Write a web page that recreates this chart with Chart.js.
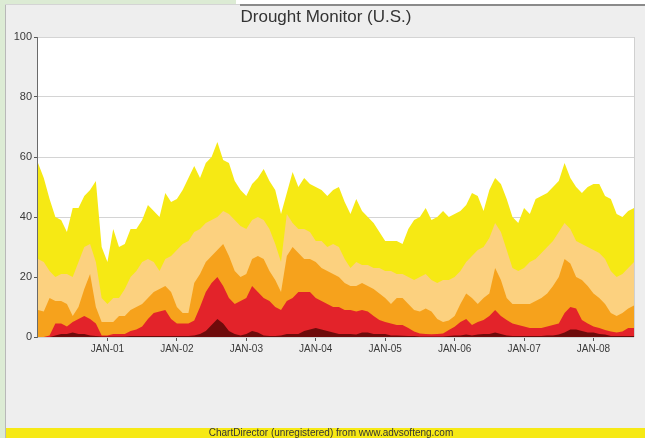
<!DOCTYPE html>
<html>
<head>
<meta charset="utf-8">
<title>Drought Monitor (U.S.)</title>
<script src="https://cdn.jsdelivr.net/npm/chart.js@4.4.1/dist/chart.umd.min.js"></script>
<style>
    html, body { margin: 0; padding: 0; background: #dcebd4; }
    #wrap { width: 645px; height: 438px; }
</style>
</head>
<body>
<div id="wrap"><canvas id="droughtChart" width="645" height="438"></canvas></div>
<script>
// Monthly percent of area in drought, Jan 2000 .. Aug 2008 (cumulative categories)
const startYear = 2000;

// D0-D4 (abnormally dry or worse)
const abnormallyDry = [
    58, 53, 46, 40, 39, 35, 43, 43, 47, 49, 52, 30,
    25, 36, 30, 31, 36, 36, 39, 44, 42, 40, 48, 45,
    46, 49, 53, 57, 53, 58, 60, 65, 59, 58, 52, 49,
    47, 51, 53, 56, 52, 49, 41, 48, 55, 50, 53, 51,
    50, 49, 47, 49, 50, 45, 41, 46, 42, 40, 38, 35,
    32, 32, 32, 31, 36, 39, 40, 43, 39, 40, 42, 40,
    41, 42, 44, 48, 47, 42, 49, 53, 51, 46, 40, 38,
    43, 41, 46, 47, 48, 50, 52, 58, 53, 50, 48, 50,
    51, 51, 47, 46, 41, 40, 42, 43
];
// D1-D4 (moderate or worse)
const moderate = [
    26, 25, 22, 20, 21, 21, 20, 25, 30, 31, 25, 13,
    11, 13, 13, 16, 20, 22, 25, 26, 25, 22, 26, 27,
    29, 31, 32, 35, 36, 38, 39, 40, 42, 41, 39, 37,
    36, 39, 40, 39, 36, 31, 25, 41, 38, 36, 36, 35,
    32, 32, 30, 31, 30, 26, 23, 25, 24, 24, 23, 23,
    22, 22, 21, 21, 20, 19, 20, 21, 19, 18, 19, 19,
    20, 22, 25, 27, 29, 30, 33, 38, 35, 29, 23, 22,
    23, 25, 26, 28, 30, 32, 35, 38, 36, 32, 31, 30,
    29, 28, 26, 22, 20, 21, 23, 25
];
// D2-D4 (severe or worse)
const severe = [
    9, 8.5, 13, 12, 12, 11, 7, 10, 16, 21, 10, 5,
    5, 5, 7, 7, 9, 10, 11, 13, 15, 16, 17, 15,
    10, 8, 8, 18, 21, 25, 27, 29, 31, 27, 22, 20,
    21, 26, 27, 26, 22, 19, 15, 27, 30, 28, 26, 26,
    25, 23, 22, 21, 20, 18, 17, 17, 18, 17, 16, 14.5,
    13, 11, 13, 13, 11, 9, 8.5, 9.5, 8.5, 6, 5, 5.5,
    7, 11, 14.5, 13, 11, 13, 14.5, 23, 19, 13, 11, 11,
    11, 11, 12, 13, 14.5, 17, 20, 26, 24.5, 20, 19, 17,
    14.5, 13, 11, 8, 7, 8, 9.5, 10.5
];
// D3-D4 (extreme or worse)
const extreme = [
    0, 0, 0.5, 4.5, 4.5, 3.5, 5, 6, 7, 6, 4.5, 0.5,
    0.5, 1, 1, 1, 2, 2.5, 3.5, 6, 8, 8.5, 9, 6,
    4.5, 4.5, 4.5, 5.5, 10, 15, 18, 20, 17, 13, 11, 12,
    13, 17, 15, 13, 12, 10, 9, 12, 13, 15, 15, 15,
    13, 12, 11, 10, 10, 9, 9, 8.5, 9, 8.5, 7, 5.7,
    5, 4.5, 4, 4, 3, 1.8, 1.2, 1, 0.9, 1, 1.2, 2.3,
    3.4, 5, 6, 4, 5, 5.7, 7, 9, 7, 5.7, 4.5, 4,
    3.5, 3, 3, 3, 3.5, 4, 4.5, 8, 10, 9.5, 5.7, 4.5,
    3.5, 3, 2.3, 1.8, 1.5, 1.8, 3, 3
];
// D4 (exceptional)
const exceptional = [
    0, 0, 0, 0.5, 1, 1, 1.5, 1, 1, 0.5, 0.3, 0.2,
    0.2, 0.2, 0.2, 0.2, 0.3, 0.3, 0.3, 0.3, 0.3, 0.3, 0.3, 0.3,
    0.3, 0.3, 0.3, 0.5, 1, 2, 4, 6, 4.5, 2, 1, 0.5,
    1, 2, 1.5, 0.5, 0.3, 0.3, 0.5, 1, 1, 1, 2, 2.5,
    3, 2.5, 2, 1.5, 1, 1, 1, 0.8, 1.5, 1.5, 1, 1,
    1, 0.5, 0.5, 0.4, 0.3, 0.3, 0.2, 0.2, 0.2, 0.2, 0.2, 0.3,
    0.5, 0.5, 0.8, 0.5, 0.8, 1, 1, 1.5, 1, 0.5, 0.3, 0.3,
    0.3, 0.3, 0.3, 0.3, 0.5, 0.5, 0.8, 1.5, 2.5, 2.5, 2, 1.5,
    1.5, 1, 0.8, 0.3, 0.3, 0.3, 0.3, 0.3
];

const yearTicks = [2001, 2002, 2003, 2004, 2005, 2006, 2007, 2008];
const valueTicks = [0, 20, 40, 60, 80, 100];

const chartTitle = 'Drought Monitor (U.S.)';
const footerText = 'ChartDirector (unregistered) from www.advsofteng.com';

const colors = {
    d4: '#6e0b0b',
    d3: '#e3232a',
    d2: '#f6a21c',
    d1: '#fcd17f',
    d0: '#f6e914'
};

const fontFamily = '"Liberation Sans", Arial, sans-serif';

// month index -> decimal year
const toPoints = arr => arr.map((v, i) => ({ x: startYear + i / 12, y: v }));
const lastX = startYear + (abnormallyDry.length - 1) / 12;

function areaSet(label, arr, color) {
    return {
        label: label,
        data: toPoints(arr),
        backgroundColor: color,
        borderColor: color,
        borderWidth: 0,
        pointRadius: 0,
        fill: 'origin',
        tension: 0
    };
}

// Panel, plot background, borders, title and footer
const framePlugin = {
    id: 'frame',
    beforeDraw(chart) {
        const ctx = chart.ctx;
        const a = chart.chartArea;
        ctx.save();
        ctx.fillStyle = '#dcebd4';
        ctx.fillRect(0, 0, 645, 438);
        ctx.fillStyle = '#ffffff';
        ctx.fillRect(236, 0, 409, 4);
        ctx.fillStyle = '#eeeeee';
        ctx.fillRect(5, 4, 640, 434);
        ctx.fillStyle = '#b8b8b8';
        ctx.fillRect(5, 4, 1, 434);
        ctx.fillStyle = '#d4d4d4';
        ctx.fillRect(5, 4, 235, 1);
        ctx.fillStyle = '#8a8a8a';
        ctx.fillRect(240, 4, 405, 2);
        // footer band
        ctx.fillStyle = '#f6e914';
        ctx.fillRect(6, 428, 639, 10);
        // plot background
        ctx.fillStyle = '#ffffff';
        ctx.fillRect(a.left, a.top, a.right - a.left, a.bottom - a.top);
        ctx.restore();
    },
    afterDatasetsDraw(chart) {
        const ctx = chart.ctx;
        const a = chart.chartArea;
        ctx.save();
        ctx.strokeStyle = '#d0d0d0';
        ctx.lineWidth = 1;
        ctx.beginPath();
        ctx.moveTo(a.right + 0.5, a.top);
        ctx.lineTo(a.right + 0.5, a.bottom);
        ctx.stroke();
        ctx.strokeStyle = '#6a6a6a';
        ctx.beginPath();
        ctx.moveTo(a.left - 0.5, a.top);
        ctx.lineTo(a.left - 0.5, a.bottom + 1);
        ctx.stroke();
        ctx.restore();
    },
    afterDraw(chart) {
        const ctx = chart.ctx;
        ctx.save();
        ctx.textAlign = 'center';
        ctx.textBaseline = 'middle';
        ctx.fillStyle = '#333333';
        ctx.font = '17px ' + fontFamily;
        ctx.fillText(chartTitle, 326, 17);
        ctx.font = '10px ' + fontFamily;
        ctx.fillText(footerText, 331, 433.5);
        ctx.restore();
    }
};

const ctx = document.getElementById('droughtChart').getContext('2d');

const droughtChart = new Chart(ctx, {
    type: 'line',
    data: {
        datasets: [
            areaSet('D4', exceptional, colors.d4),
            areaSet('D3', extreme, colors.d3),
            areaSet('D2', severe, colors.d2),
            areaSet('D1', moderate, colors.d1),
            areaSet('D0', abnormallyDry, colors.d0)
        ]
    },
    options: {
        responsive: false,
        animation: false,
        devicePixelRatio: 1,
        layout: {
            padding: { top: 37, right: 11, bottom: 0, left: 0 }
        },
        plugins: {
            legend: { display: false },
            tooltip: { enabled: false },
            title: { display: false }
        },
        scales: {
            x: {
                type: 'linear',
                min: startYear,
                max: lastX,
                afterBuildTicks: axis => {
                    axis.ticks = yearTicks.map(v => ({ value: v }));
                },
                afterFit: axis => { axis.height = 101; },
                ticks: {
                    color: '#3a3a3a',
                    font: { family: fontFamily, size: 10 },
                    padding: 2,
                    maxRotation: 0,
                    callback: v => 'JAN-' + String(v % 100).padStart(2, '0')
                },
                grid: {
                    drawOnChartArea: false,
                    tickLength: 4,
                    tickColor: '#555555'
                },
                border: { display: false }
            },
            y: {
                min: 0,
                max: 100,
                afterBuildTicks: axis => {
                    axis.ticks = valueTicks.map(v => ({ value: v }));
                },
                afterFit: axis => { axis.width = 38; },
                ticks: {
                    color: '#3a3a3a',
                    font: { family: fontFamily, size: 11 },
                    padding: 2
                },
                grid: {
                    color: '#d4d4d4',
                    tickColor: '#555555',
                    tickLength: 4
                },
                border: { display: false }
            }
        }
    },
    plugins: [framePlugin]
});
</script>
</body>
</html>
